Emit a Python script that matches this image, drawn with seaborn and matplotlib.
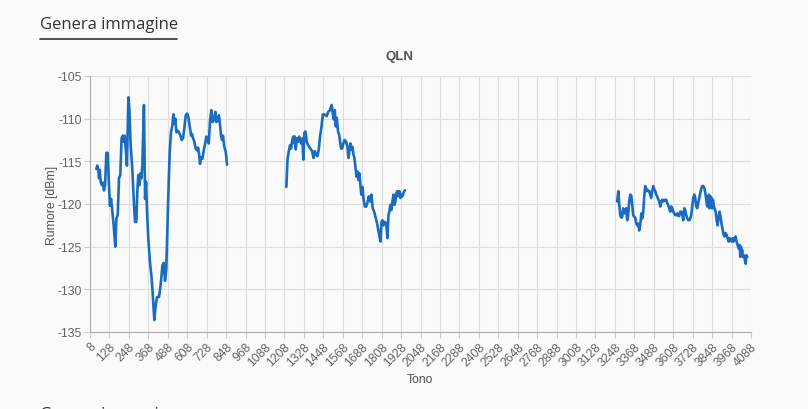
import numpy as np
import pandas as pd
import matplotlib
matplotlib.use("Agg")
import matplotlib.pyplot as plt
import seaborn as sns

# ---------------- data ----------------
seg1_tone = [47, 53, 59, 64, 68, 74, 82, 88, 94, 101, 109, 117, 125, 131, 138, 144, 154, 164, 171, 179,
             187, 195, 203, 210, 216, 222, 230, 236, 245, 251, 259, 269, 280, 286, 294, 300, 306, 313, 319, 325,
             331, 341, 348, 354, 360, 368, 378, 389, 397, 405, 413, 422, 434, 444, 455, 463, 471, 479, 490, 500,
             508, 516, 523, 529, 535, 541, 549, 557, 566, 574, 582, 590, 599, 607, 615, 623, 632, 638, 644, 652,
             660, 669, 675, 681, 687, 693, 702, 710, 718, 726, 734, 741, 749, 757, 765, 774, 782, 788, 796, 804,
             811, 817, 823, 829, 837, 846, 854]
seg1_val = [-115.9, -115.5, -116.0, -117.0, -116.0, -117.4, -117.8, -117.5, -118.4, -117.8, -114.0, -114.0, -117.8, -120.2, -119.4, -120.5, -122.5, -125.0, -121.7, -121.3,
            -117.0, -116.6, -112.3, -112.0, -112.7, -112.0, -113.9, -115.5, -107.5, -108.8, -113.1, -115.9, -120.2, -122.1, -122.1, -118.6, -116.6, -117.8, -116.4, -117.0,
            -115.5, -108.4, -119.4, -117.4, -120.9, -124.1, -126.8, -128.8, -131.1, -133.6, -131.9, -130.9, -130.9, -129.5, -127.2, -126.9, -129.0, -127.6, -119.8, -113.9,
            -111.6, -110.8, -109.5, -110.6, -110.0, -111.6, -111.4, -111.6, -112.0, -112.5, -112.3, -111.2, -109.6, -109.4, -109.8, -110.8, -112.0, -111.8, -112.3, -112.7,
            -113.5, -113.7, -113.4, -114.1, -115.3, -114.5, -114.7, -113.7, -113.0, -112.1, -112.5, -112.9, -110.2, -109.0, -110.4, -110.1, -109.2, -110.4, -110.2, -109.6,
            -110.8, -112.0, -112.5, -112.0, -113.3, -113.9, -115.4]

seg2_tone = [1220, 1227, 1235, 1243, 1249, 1255, 1262, 1268, 1272, 1278, 1284, 1292, 1299, 1305, 1311, 1319, 1325, 1331, 1338, 1346,
             1354, 1362, 1371, 1379, 1387, 1395, 1404, 1412, 1420, 1428, 1436, 1445, 1453, 1461, 1469, 1478, 1486, 1494, 1500, 1506,
             1513, 1519, 1525, 1531, 1539, 1546, 1552, 1558, 1564, 1572, 1580, 1589, 1597, 1603, 1609, 1615, 1622, 1628, 1634, 1640,
             1646, 1653, 1659, 1665, 1671, 1677, 1683, 1690, 1696, 1704, 1712, 1720, 1729, 1737, 1745, 1753, 1762, 1770, 1778, 1786,
             1795, 1801, 1807, 1813, 1819, 1827, 1836, 1844, 1850, 1856, 1862, 1868, 1875, 1881, 1887, 1893, 1899, 1905, 1912, 1918,
             1924, 1930, 1936, 1943, 1951]
seg2_val = [-118.0, -114.8, -113.8, -113.1, -113.5, -112.7, -112.1, -112.9, -112.1, -113.6, -112.3, -112.7, -112.1, -112.5, -112.9, -112.3, -114.8, -111.7, -111.5, -112.7,
            -113.1, -113.3, -113.6, -113.8, -114.6, -113.8, -114.2, -114.4, -113.6, -112.1, -111.1, -109.5, -109.5, -109.6, -109.7, -109.2, -109.1, -108.7, -108.4, -109.3,
            -110.1, -109.0, -110.9, -109.9, -111.5, -111.9, -112.7, -113.5, -113.5, -112.9, -112.5, -112.7, -113.3, -114.6, -113.8, -112.9, -113.6, -113.3, -114.2, -114.6,
            -115.6, -116.8, -116.2, -117.2, -116.4, -117.8, -118.9, -118.0, -119.3, -120.3, -120.3, -119.9, -119.1, -119.7, -118.9, -120.5, -120.9, -121.5, -122.1, -122.9,
            -123.8, -124.4, -122.1, -121.9, -122.5, -122.1, -122.3, -124.0, -121.3, -120.9, -120.1, -120.7, -119.7, -118.9, -120.1, -119.7, -118.7, -118.5, -119.1, -118.5,
            -119.3, -118.9, -119.1, -118.7, -118.4]

seg3_tone = [3262, 3269, 3275, 3281, 3287, 3293, 3299, 3306, 3312, 3318, 3324, 3330, 3336, 3343, 3349, 3355, 3361, 3367, 3374, 3380,
             3386, 3392, 3398, 3404, 3411, 3417, 3423, 3429, 3435, 3441, 3448, 3454, 3460, 3466, 3472, 3478, 3485, 3491, 3497, 3503,
             3509, 3516, 3522, 3528, 3534, 3540, 3546, 3553, 3559, 3565, 3571, 3577, 3583, 3590, 3596, 3602, 3608, 3614, 3620, 3627,
             3633, 3639, 3645, 3651, 3658, 3664, 3670, 3676, 3682, 3688, 3695, 3701, 3707, 3713, 3719, 3725, 3732, 3738, 3744, 3750,
             3756, 3762, 3769, 3775, 3781, 3787, 3793, 3800, 3806, 3812, 3818, 3824, 3828, 3832, 3837, 3841, 3845, 3849, 3853, 3857,
             3863, 3870, 3876, 3882, 3888, 3894, 3900, 3906, 3913, 3919, 3925, 3931, 3937, 3944, 3950, 3956, 3962, 3968, 3974, 3981,
             3987, 3993, 3999, 4005, 4012, 4018, 4022, 4026, 4030, 4034, 4038, 4042, 4049, 4055, 4059, 4065]
seg3_val = [-119.7, -118.5, -120.1, -121.3, -121.6, -121.5, -120.5, -120.7, -121.1, -120.5, -121.9, -121.3, -119.7, -118.9, -119.0, -120.1, -121.3, -121.5, -121.6, -122.3,
            -122.5, -122.3, -123.1, -122.5, -121.1, -121.7, -120.9, -119.1, -117.9, -118.5, -118.3, -118.5, -118.5, -118.9, -119.3, -118.5, -117.9, -118.3, -118.5, -118.9,
            -119.1, -119.5, -119.7, -120.3, -119.7, -119.5, -119.7, -119.5, -119.6, -119.5, -119.9, -120.1, -120.5, -120.9, -120.3, -120.5, -120.9, -121.1, -121.3, -121.3,
            -121.1, -121.4, -121.4, -120.9, -120.9, -121.3, -121.9, -120.5, -120.7, -121.3, -121.7, -121.9, -121.9, -121.7, -121.3, -120.3, -119.3, -118.9, -119.3, -120.3,
            -120.5, -119.9, -119.3, -118.7, -118.2, -117.9, -117.9, -118.1, -118.7, -119.5, -120.3, -119.7, -118.9, -120.5, -119.1, -120.1, -119.3, -120.5, -119.5, -120.1,
            -120.5, -120.9, -121.9, -122.5, -121.5, -120.9, -121.5, -122.3, -123.0, -123.6, -123.8, -123.4, -123.6, -124.0, -124.4, -124.0, -124.2, -124.4, -124.0, -124.4,
            -124.0, -123.8, -124.4, -124.8, -125.2, -124.8, -126.2, -125.0, -125.6, -125.4, -126.2, -126.0, -126.4, -127.0, -126.0, -126.2]

x_ticks = list(range(8, 4089, 120))
y_ticks = [-135, -130, -125, -120, -115, -110, -105]

title = "QLN"
x_label = "Tono"
y_label = "Rumore [dBm]"
heading = "Genera immagine"

# ---------------- figure ----------------
sns.set_theme(style="white")
plt.rcParams['font.family'] = ['Liberation Sans', 'DejaVu Sans']

BG = "#fafafa"
fig = plt.figure(figsize=(8.08, 4.10), dpi=100, facecolor=BG)
ax = fig.add_axes([90/808, 1-333/410, (751-90)/808, (333-77)/410])
ax.set_facecolor(BG)

frames = []
for i, (t, v) in enumerate([(seg1_tone, seg1_val), (seg2_tone, seg2_val), (seg3_tone, seg3_val)]):
    frames.append(pd.DataFrame({"tone": t, "qln": v, "seg": i}))
df = pd.concat(frames, ignore_index=True)

sns.lineplot(data=df, x="tone", y="qln", units="seg", estimator=None,
             color="#1a6cc0", linewidth=1.9, ax=ax, legend=False)
for ln in ax.get_lines():
    ln.set_solid_joinstyle("round")
    ln.set_solid_capstyle("round")

ax.set_xlim(8, 4088)
ax.set_ylim(-135, -105)
ax.set_xticks(x_ticks)
ax.set_xticklabels([str(t) for t in x_ticks], rotation=45, ha="right",
                   rotation_mode="anchor", fontsize=8.8, color="#666666")
ax.set_yticks(y_ticks)
ax.set_yticklabels([str(t) for t in y_ticks], fontsize=8.8, color="#666666")
ax.grid(True, color="#dddddd", linewidth=0.8)
ax.tick_params(axis="both", length=4, width=0.8, color="#cccccc", pad=2,
               bottom=True, left=True)
for s in ["top", "right"]:
    ax.spines[s].set_visible(False)
for s in ["left", "bottom"]:
    ax.spines[s].set_color("#aaaaaa")
    ax.spines[s].set_linewidth(0.8)

ax.set_xlabel("")
ax.set_ylabel("")
fig.text(420/808, 1-380/410, x_label, ha="center", va="center", fontsize=8.8, color="#555555")
fig.text(52/808, 1-205/410, y_label, ha="center", va="center", rotation=90, fontsize=8.8, color="#555555")
fig.text(400/808, 1-57/410, title, ha="center", va="center", fontsize=9.5, fontweight="bold", color="#555555")

fig.text(40/808, 1-25/410, heading, ha="left", va="center", fontsize=12, color="#333333", family="Open Sans")
fig.add_artist(plt.Line2D([40/808, 177/808], [1-40/410, 1-40/410], color="#333333", linewidth=1.2))
fig.text(40/808, 1-415/410, heading, ha="left", va="center", fontsize=12, color="#333333", family="Open Sans")

fig.savefig("out.png", dpi=100, facecolor=BG)
